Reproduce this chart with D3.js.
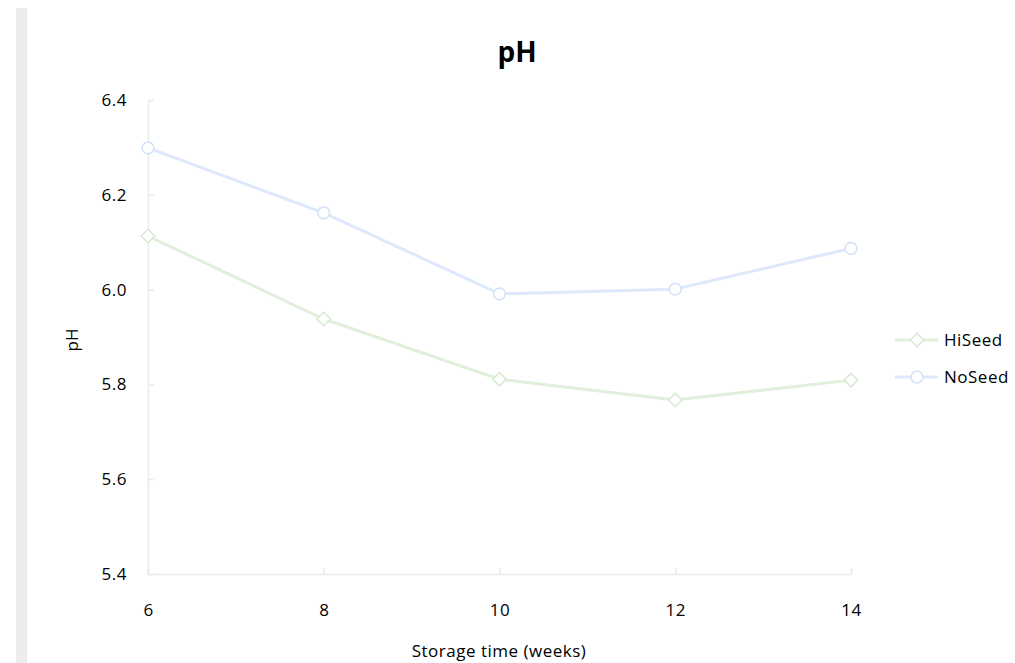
<!DOCTYPE html>
<html>
<head>
<meta charset="utf-8">
<script src="https://cdn.jsdelivr.net/npm/d3@7"></script>
<style>
  html, body { margin: 0; padding: 0; background: #fff; }
  svg text { font-family: "Open Sans", Lato, sans-serif; fill: #000; }
</style>
</head>
<body>
<svg id="chart" width="1015" height="663"></svg>
<script>
// Storage time in weeks and pH readings per treatment
const weeks = [6, 8, 10, 12, 14];
const hiSeed = [6.113, 5.938, 5.811, 5.767, 5.809];
const noSeed = [6.299, 6.162, 5.991, 6.001, 6.087];
const yTicks = [5.4, 5.6, 5.8, 6.0, 6.2, 6.4];
const seriesNames = ["HiSeed", "NoSeed"];

const svg = d3.select("#chart");
const W = 1015, H = 663;
const plotLeft = 148, plotRight = 851, plotTop = 100, plotBottom = 574;
const labelFont = "'Open Sans', Lato, sans-serif";
const labelSize = 17;
const labelSpacing = 0.5;

// page side strip
svg.append("rect").attr("x", 16).attr("y", 8).attr("width", 11).attr("height", H - 8).attr("fill", "#ececec");

const x = d3.scaleLinear().domain([6, 14]).range([plotLeft, plotRight]);
const y = d3.scaleLinear().domain([5.4, 6.4]).range([plotBottom, plotTop]);

const axisColor = "#e6ede6";

// y axis
const yAxis = svg.append("g").attr("transform", `translate(${plotLeft},0)`)
  .call(d3.axisLeft(y).tickValues(yTicks).tickSize(-6).tickPadding(21).tickFormat(d3.format(".1f")));
yAxis.select(".domain").attr("stroke", axisColor).attr("stroke-width", 1.5);
yAxis.selectAll(".tick line").attr("stroke", axisColor).attr("stroke-width", 1.5);
yAxis.selectAll(".tick text").attr("font-size", labelSize).attr("fill", "#000")
  .attr("letter-spacing", labelSpacing).style("font-family", labelFont);

// x axis
const xAxis = svg.append("g").attr("transform", `translate(0,${plotBottom})`)
  .call(d3.axisBottom(x).tickValues(weeks).tickSize(-6).tickPadding(30).tickFormat(d3.format("d")));
xAxis.select(".domain").attr("stroke", axisColor).attr("stroke-width", 1.5);
xAxis.selectAll(".tick line").attr("stroke", axisColor).attr("stroke-width", 1.5);
xAxis.selectAll(".tick text").attr("font-size", labelSize).attr("fill", "#000")
  .attr("letter-spacing", labelSpacing).style("font-family", labelFont);

// title and axis titles
svg.append("text").attr("x", 517).attr("y", 62).attr("text-anchor", "middle")
  .attr("font-size", 28).attr("font-weight", "bold").text("pH");
svg.append("text").attr("x", 499).attr("y", 657).attr("text-anchor", "middle")
  .attr("font-size", labelSize).attr("letter-spacing", labelSpacing).text("Storage time (weeks)");
svg.append("text").attr("transform", "translate(78,340) rotate(-90)").attr("text-anchor", "middle")
  .attr("font-size", labelSize).text("pH");

const colors = { HiSeed: "#e1efdb", NoSeed: "#dde8fb" };
const markerStroke = { HiSeed: "#d6e9cf", NoSeed: "#d3e1f8" };
const line = d3.line().x((d, i) => x(weeks[i])).y(d => y(d));

const diamond = d3.symbol().type(d3.symbolDiamond2).size(115);
const circle = d3.symbol().type(d3.symbolCircle).size(110);

function drawSeries(name, values) {
  svg.append("path").datum(values).attr("d", line)
    .attr("fill", "none").attr("stroke", colors[name]).attr("stroke-width", 3);
  svg.selectAll(null).data(values).enter().append("path")
    .attr("transform", (d, i) => `translate(${x(weeks[i])},${y(d)})`)
    .attr("d", name === "HiSeed" ? diamond() : circle())
    .attr("fill", "#fff").attr("stroke", markerStroke[name]).attr("stroke-width", 1.5);
}
drawSeries("HiSeed", hiSeed);
drawSeries("NoSeed", noSeed);

// legend
const legend = svg.append("g");
seriesNames.forEach((name, i) => {
  const ly = 340 + i * 37;
  legend.append("line").attr("x1", 895).attr("x2", 938).attr("y1", ly).attr("y2", ly)
    .attr("stroke", colors[name]).attr("stroke-width", 3);
  legend.append("path").attr("transform", `translate(917,${ly})`)
    .attr("d", name === "HiSeed" ? diamond() : circle())
    .attr("fill", "#fff").attr("stroke", markerStroke[name]).attr("stroke-width", 1.5);
  legend.append("text").attr("x", 944).attr("y", ly + 6).attr("font-size", labelSize)
    .attr("letter-spacing", labelSpacing).text(name);
});
</script>
</body>
</html>
